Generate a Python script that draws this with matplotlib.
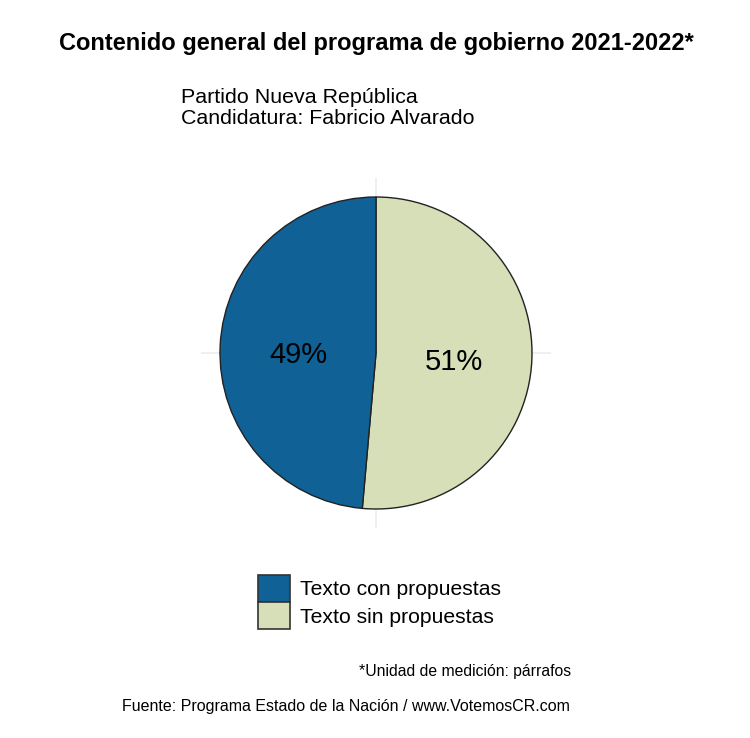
import matplotlib.pyplot as plt
from matplotlib.patches import Patch

plt.rcParams['font.family'] = ['Liberation Sans', 'DejaVu Sans']

# data
categorias = ['Texto sin propuestas', 'Texto con propuestas']
porcentajes = [51.4, 48.6]
colores = ['#d6dfb8', '#0f6196']

fig = plt.figure(figsize=(7.5, 7.38), dpi=100)
W, H = 750, 738

# panel: centre (376, 353) px, half size 175 px
cx, cy, half = 376, 353, 175
ax = fig.add_axes([(cx - half) / W, 1 - (cy + half) / H, 2 * half / W, 2 * half / H])
ax.axhline(0, color='#ebebeb', lw=1.1, zorder=0)
ax.axvline(0, color='#ebebeb', lw=1.1, zorder=0)

wedges, texts, autotexts = ax.pie(
    porcentajes, colors=colores, startangle=90, counterclock=False,
    radius=156 / half, autopct='%1.0f%%', pctdistance=0.5,
    wedgeprops=dict(edgecolor='#222222', linewidth=1.0),
    textprops=dict(fontsize=21, color='black'))
for t in autotexts:  # baseline a bit below the slice midpoint, like ggplot
    x, y = t.get_position()
    t.set_va('baseline')
    t.set_position((x, y - 13.3 / half))
ax.set_xlim(-1, 1)
ax.set_ylim(-1, 1)
ax.set_aspect('auto')
ax.axis('off')

fig.text(376 / W, 1 - 50 / H, 'Contenido general del programa de gobierno 2021-2022*',
         ha='center', va='baseline', fontsize=17, fontweight='bold')
fig.text(181 / W, 1 - 103 / H, 'Partido Nueva República', ha='left', va='baseline', fontsize=15.4)
fig.text(181 / W, 1 - 124.5 / H, 'Candidatura: Fabricio Alvarado', ha='left', va='baseline', fontsize=15.4)

handles = [Patch(facecolor=colores[1], edgecolor='#333333', linewidth=1.2),
           Patch(facecolor=colores[0], edgecolor='#333333', linewidth=1.2)]
fig.legend(handles, [categorias[1], categorias[0]], loc='upper left',
           bbox_to_anchor=(258 / W, 1 - 575 / H), frameon=False, fontsize=15.2,
           handlelength=1.52, handleheight=1.6, handletextpad=0.47, labelspacing=0.0,
           borderpad=0.0, borderaxespad=0.0)

fig.text(571 / W, 1 - 676 / H, '*Unidad de medición: párrafos', ha='right', va='baseline', fontsize=11.35)
fig.text(346 / W, 1 - 711 / H, 'Fuente: Programa Estado de la Nación / www.VotemosCR.com',
         ha='center', va='baseline', fontsize=11.5)

fig.savefig('out.png', dpi=100, facecolor='white')
